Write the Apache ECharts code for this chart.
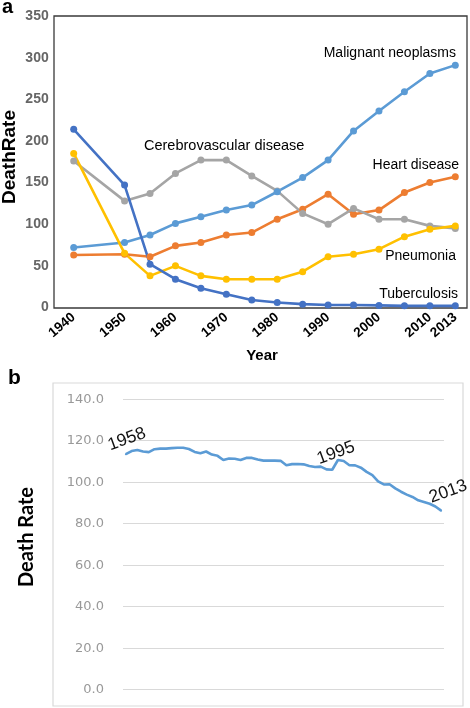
<!DOCTYPE html>
<html>
<head>
<meta charset="utf-8">
<script src="https://cdn.jsdelivr.net/npm/echarts@6/dist/echarts.min.js"></script>
<style>html,body{margin:0;padding:0;background:#fff}#c{width:470px;height:708px}</style>
</head>
<body>
<div id="c"></div>
<script>
// ---- Panel a data ----
const yearsA = ['1940','1945','1950','1955','1960','1965','1970','1975','1980','1985','1990','1995','2000','2005','2010','2013'];
const malignant = [72, null, 78, 87, 101, 109, 117, 123, 139, 156, 177, 212, 236, 259, 281, 291];
const heart = [63, null, 64, 61, 74, 78, 87, 90, 106, 118, 136, 112, 117, 138, 150, 157];
const cerebro = [176, null, 128, 137, 161, 177, 177, 158, 140, 113, 100, 119, 106, 106, 98, 95];
const pneumonia = [185, null, 65, 38, 50, 38, 34, 34, 34, 43, 61, 64, 70, 85, 94, 98];
const tuberculosis = [214, null, 147, 52, 34, 23, 16, 9, 6, 4, 3, 3, 2.5, 2, 2, 2];
const yTicksA = [0, 50, 100, 150, 200, 250, 300, 350];

// ---- Panel b data ----
const yearsB = [];
for (let y = 1958; y <= 2013; y++) yearsB.push(String(y));
const deathRateB = [113.5, 115, 115.5, 114.8, 114.5, 115.9, 116.2, 116.2, 116.4, 116.6,
  116.6, 116.0, 114.6, 114.0, 114.8, 113.3, 112.7, 110.7, 111.4, 111.3,
  110.7, 111.7, 111.7, 110.9, 110.4, 110.4, 110.4, 110.3, 108.2, 108.7,
  108.8, 108.6, 107.8, 107.3, 107.5, 106.2, 106.0, 110.7, 110.2, 108.2,
  108.1, 107.0, 105.0, 103.4, 100.4, 98.9, 99.0, 97.0, 95.4, 94.0,
  92.9, 91.3, 90.5, 89.6, 88.3, 86.3];
const labeledYearsB = ['1958', '1995', '2013'];
const yTicksB = [0, 20, 40, 60, 80, 100, 120, 140];

// label anchor relative to the point (label centre)
const labelPos = { '1958': [2, -14], '1995': [-1, -6], '2013': [8, -18] };

const colors = { malignant: '#5B9BD5', heart: '#ED7D31', cerebro: '#A5A5A5', pneumonia: '#FFC000', tuberculosis: '#4472C4' };
const sans = '"Liberation Sans", Arial, Helvetica, sans-serif';

function lineSeries(name, data, color) {
  return {
    name, type: 'line', xAxisIndex: 0, yAxisIndex: 0, data,
    connectNulls: true, symbol: 'circle', symbolSize: 7,
    lineStyle: { color, width: 2.6 }, itemStyle: { color },
    emphasis: { disabled: true }, animation: false
  };
}

const bData = deathRateB.map((v, i) => {
  const yr = yearsB[i];
  if (labeledYearsB.includes(yr)) {
    return {
      value: v,
      symbol: 'circle', symbolSize: 2,
      label: {
        show: true, formatter: yr, position: labelPos[yr], rotate: 20,
        align: 'center', verticalAlign: 'middle',
        color: '#111', fontSize: 17.5, fontFamily: sans
      }
    };
  }
  return { value: v, symbol: 'none' };
});

const chart = echarts.init(document.getElementById('c'), null, { renderer: 'canvas' });
chart.setOption({
  animation: false,
  backgroundColor: '#fff',
  grid: [
    { left: 73.7, right: 14.7, top: 16, bottom: 400.5 },
    { left: 123, right: 26, top: 399.2, bottom: 18.3 }
  ],
  xAxis: [
    {
      gridIndex: 0, type: 'category', data: yearsA, boundaryGap: false,
      axisLine: { show: false }, axisTick: { show: false }, splitLine: { show: false },
      axisLabel: {
        rotate: 40, margin: 8, color: '#000', fontWeight: 'bold', fontSize: 13.5, fontFamily: sans,
        interval: (idx) => idx % 2 === 0 || idx === yearsA.length - 1
      }
    },
    {
      gridIndex: 1, type: 'category', data: yearsB, boundaryGap: true,
      axisLine: { show: false }, axisTick: { show: false }, axisLabel: { show: false }, splitLine: { show: false }
    }
  ],
  yAxis: [
    {
      gridIndex: 0, type: 'value', min: yTicksA[0], max: yTicksA[yTicksA.length - 1], interval: 50,
      axisLine: { show: false }, axisTick: { show: false }, splitLine: { show: false },
      axisLabel: { margin: 25, color: '#666', fontWeight: 'bold', fontSize: 14, fontFamily: sans }
    },
    {
      gridIndex: 1, type: 'value', min: yTicksB[0], max: yTicksB[yTicksB.length - 1], interval: 20,
      axisLine: { show: false }, axisTick: { show: false },
      splitLine: { show: true, lineStyle: { color: '#d9d9d9', width: 1 } },
      axisLabel: { margin: 19, color: '#999', fontSize: 13, fontFamily: '"DejaVu Sans", sans-serif', formatter: (v) => v.toFixed(1) }
    }
  ],
  graphic: [
    { type: 'rect', shape: { x: 54, y: 16, width: 413, height: 292 }, style: { fill: 'none', stroke: '#3a3a3a', lineWidth: 1.3 }, z: 0 },
    { type: 'rect', shape: { x: 53, y: 383, width: 410, height: 323 }, style: { fill: 'none', stroke: '#d9d9d9', lineWidth: 1.2 }, z: 0 },
    { type: 'text', left: 2, top: -3, style: { text: 'a', font: 'bold 20px ' + sans, fill: '#000' } },
    { type: 'text', left: 8, top: 368, style: { text: 'b', font: 'bold 21px ' + sans, fill: '#000' } },
    { type: 'text', x: 10, y: 157, rotation: Math.PI / 2, style: { text: 'DeathRate', font: 'bold 19px ' + sans, fill: '#000', align: 'center', verticalAlign: 'middle' } },
    { type: 'text', x: 262, y: 356, style: { text: 'Year', font: 'bold 15px ' + sans, fill: '#000', align: 'center', verticalAlign: 'middle' } },
    { type: 'text', x: 27, y: 537, rotation: Math.PI / 2, style: { text: 'Death Rate', font: 'bold 20px Lato, "Open Sans", sans-serif', fill: '#000', align: 'center', verticalAlign: 'middle' } },
    { type: 'text', x: 456, y: 53, style: { text: 'Malignant neoplasms', font: '14px ' + sans, fill: '#000', align: 'right', verticalAlign: 'middle' } },
    { type: 'text', x: 459, y: 165, style: { text: 'Heart disease', font: '14px ' + sans, fill: '#000', align: 'right', verticalAlign: 'middle' } },
    { type: 'text', x: 144, y: 146, style: { text: 'Cerebrovascular disease', font: '14.5px ' + sans, fill: '#000', align: 'left', verticalAlign: 'middle' } },
    { type: 'text', x: 456, y: 256, style: { text: 'Pneumonia', font: '14px ' + sans, fill: '#000', align: 'right', verticalAlign: 'middle' } },
    { type: 'text', x: 458, y: 294, style: { text: 'Tuberculosis', font: '14px ' + sans, fill: '#000', align: 'right', verticalAlign: 'middle' } }
  ],
  series: [
    lineSeries('Heart disease', heart, colors.heart),
    lineSeries('Cerebrovascular disease', cerebro, colors.cerebro),
    lineSeries('Malignant neoplasms', malignant, colors.malignant),
    lineSeries('Pneumonia', pneumonia, colors.pneumonia),
    lineSeries('Tuberculosis', tuberculosis, colors.tuberculosis),
    {
      name: 'Death Rate', type: 'line', xAxisIndex: 1, yAxisIndex: 1, data: bData,
      symbol: 'circle', symbolSize: 2, showSymbol: true, showAllSymbol: true,
      itemStyle: { color: '#5B9BD5' },
      labelLayout: { hideOverlap: false },
      smooth: false, lineStyle: { color: '#5B9BD5', width: 2.6 },
      emphasis: { disabled: true }, animation: false
    }
  ]
});
</script>
</body>
</html>
